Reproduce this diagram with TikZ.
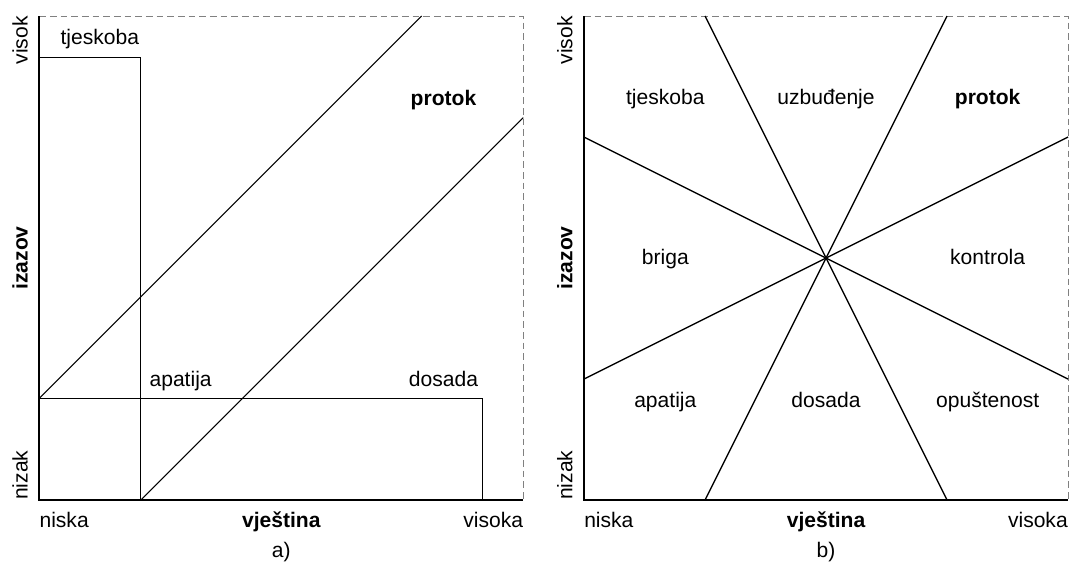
\documentclass[tikz,border=0pt]{standalone}
\usepackage{fontspec}
\setmainfont{Liberation Sans}
\usetikzlibrary{calc, positioning}
\definecolor{dashgray}{RGB}{128,128,128}

\begin{document}
\begin{tikzpicture}[x=36.3pt, y=36.3pt,
    every node/.style={inner sep=0pt, font=\fontsize{15.8}{19}\selectfont},
    lbl/.style={anchor=base},
    bold/.style={font=\fontsize{15.8}{19}\selectfont\bfseries},
    axis/.style={line width=1.6pt},
    frame/.style={dashgray, line width=0.75pt, dash pattern=on 5pt off 3pt},
    zone/.style={line width=0.8pt},
    ray/.style={line width=1pt}]
                \useasboundingbox (0,0) rectangle (22.107,11.591);

                % a) Panel
                \begin{scope}[shift={(0.812,1.26)}]
                    % Frame and axes
                    \draw[frame] (0,10) -- (10,10) -- (10,0);
                    \draw[axis] (0,10) -- (0,0) -- (10,0);

                    % Zones
                    \draw[zone] (0,0) rectangle (2.1,9.15);
                    \draw[zone] (0,0) rectangle (9.15,2.1);
                    \draw[zone] (0,2.1) -- (7.9,10);
                    \draw[zone] (2.1,0) -- (10,7.9);

                    % Zone labels
                    \node[lbl] (tjeskobaA) at (1.25,9.42) {tjeskoba};
                    \node[lbl, bold] (protokA) at (8.35,8.16) {protok};
                    \node[lbl] (apatijaA) at (2.92,2.35) {apatija};
                    \node[lbl] (dosadaA) at (8.35,2.35) {dosada};

                    % Axis labels
                    \node[anchor=base west] (niskaA) at (0,-0.57) {niska};
                    \node[lbl, bold] (vjestinaA) at (5,-0.57) {vještina};
                    \node[anchor=base east] (visokaA) at (10,-0.57) {visoka};
                    \node[rotate=90, anchor=base west] (nizakA) at (-0.24,0) {nizak};
                    \node[rotate=90, anchor=base, bold] (izazovA) at (-0.24,5) {izazov};
                    \node[rotate=90, anchor=base east] (visokA) at (-0.24,10) {visok};
                    \node[lbl] (captionA) at (5,-1.18) {a)};
                \end{scope}

                % b) Panel
                \begin{scope}[shift={(12.066,1.26)}]
                    % Frame and axes
                    \draw[frame] (0,10) -- (10,10) -- (10,0);
                    \draw[axis] (0,10) -- (0,0) -- (10,0);

                    % Rays through the centre
                    \coordinate (mid) at (5,5);
                    \foreach \xa/\ya/\xb/\yb in {2.5/10/7.5/0, 7.5/10/2.5/0, 0/7.5/10/2.5, 0/2.5/10/7.5}
                        \draw[ray] (\xa,\ya) -- (\xb,\yb);

                    % Zone labels
                    \node[lbl] (tjeskobaB) at (1.68,8.17) {tjeskoba};
                    \node[lbl] (uzbudjenjeB) at (5,8.17) {uzbuđenje};
                    \node[lbl, bold] (protokB) at (8.34,8.17) {protok};
                    \node[lbl] (brigaB) at (1.68,4.86) {briga};
                    \node[lbl] (kontrolaB) at (8.34,4.86) {kontrola};
                    \node[lbl] (apatijaB) at (1.68,1.92) {apatija};
                    \node[lbl] (dosadaB) at (5,1.92) {dosada};
                    \node[lbl] (opustenostB) at (8.34,1.92) {opuštenost};

                    % Axis labels
                    \node[anchor=base west] (niskaB) at (0,-0.57) {niska};
                    \node[lbl, bold] (vjestinaB) at (5,-0.57) {vještina};
                    \node[anchor=base east] (visokaB) at (10,-0.57) {visoka};
                    \node[rotate=90, anchor=base west] (nizakB) at (-0.24,0) {nizak};
                    \node[rotate=90, anchor=base, bold] (izazovB) at (-0.24,5) {izazov};
                    \node[rotate=90, anchor=base east] (visokB) at (-0.24,10) {visok};
                    \node[lbl] (captionB) at (5,-1.18) {b)};
                \end{scope}
            \end{tikzpicture}
\end{document}
